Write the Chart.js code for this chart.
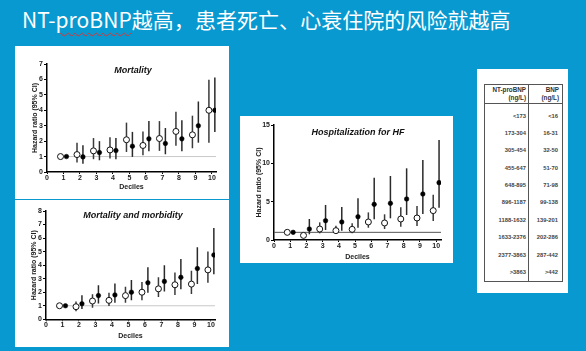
<!DOCTYPE html>
<html lang="zh">
<head>
<meta charset="UTF-8">
<script src="https://cdn.jsdelivr.net/npm/chart.js"></script>
<style>
  body { margin: 0; width: 586px; height: 351px; background: #0799cf; position: relative; overflow: hidden; }
  .title {
    position: absolute; left: 22px; top: 9px; color: #fff; white-space: nowrap; letter-spacing: 0.05px;
    font: 21px/21px "Noto Sans CJK SC", "Noto Sans", sans-serif;
  }
  .title .spell { text-decoration: underline wavy #e03030; text-decoration-thickness: 1px; text-underline-offset: 4px; }
  .panel { position: absolute; background: #fff; }
  .panel canvas { position: absolute; left: 0; top: 0; }
  .ptitle {
    position: absolute; transform: translate(-50%, -50%); white-space: nowrap;
    font: italic bold 9px "Liberation Sans", Arial, sans-serif; color: #111;
  }
  #ranges {
    position: absolute; left: 7px; top: 15px; width: 79px;
    border-collapse: collapse; border: 1px solid #555;
    font: bold 5.8px "Liberation Sans", Arial, sans-serif; color: #444;
  }
  #ranges th { height: 18px; line-height: 8px; text-align: right; padding: 0 3px 0 0; border-bottom: 1px solid #555; color: #333; font-size: 6.3px; }
  #ranges td { height: 17.4px; text-align: right; padding: 0 4px 0 0; line-height: 8px; }
  #ranges th:first-child, #ranges td:first-child { border-right: 1px solid #555; width: 41px; padding-right: 2px; }
  #ranges tr.first td { height: 20.7px; padding-top: 3.3px; box-sizing: border-box; }
</style>
</head>
<body>
  <div class="title">NT-<span class="spell">proBNP</span>越高，患者死亡、心衰住院的风险就越高</div>

  <div class="panel" style="left:15px; top:46px; width:214px; height:153px;">
    <canvas id="mort" width="214" height="153"></canvas>
    <div class="ptitle" style="left:118px; top:24px;">Mortality</div>
  </div>
  <div class="panel" style="left:15px; top:200px; width:214px; height:147px;">
    <canvas id="morb" width="214" height="147"></canvas>
    <div class="ptitle" style="left:118px; top:15px;">Mortality and morbidity</div>
  </div>
  <div class="panel" style="left:240px; top:116px; width:213px; height:147px;">
    <canvas id="hosp" width="213" height="147"></canvas>
    <div class="ptitle" style="left:118px; top:16px;">Hospitalization for HF</div>
  </div>

  <div class="panel" style="left:477px; top:69px; width:91px; height:224px;">
    <table id="ranges">
      <thead><tr><th>NT-proBNP<br>(ng/L)</th><th>BNP<br>(ng/L)</th></tr></thead>
      <tbody></tbody>
    </table>
  </div>

<script>
  // ---- data ----
  const deciles = [1, 2, 3, 4, 5, 6, 7, 8, 9, 10];

  // Mortality (open = NT-proBNP, filled = BNP)
  const mortOpenHr = [1.0, 1.13, 1.37, 1.43, 2.09, 1.72, 2.17, 2.63, 2.41, 4.0];
  const mortOpenLo = [null, 0.62, 0.83, 0.87, 1.3, 1.09, 1.37, 1.7, 1.54, 1.89];
  const mortOpenHi = [null, 1.9, 2.2, 2.26, 3.2, 2.63, 3.3, 3.9, 3.65, 5.98];
  const mortFillHr = [1.0, 0.98, 1.26, 1.39, 1.67, 2.15, 1.85, 2.15, 3.0, 4.0];
  const mortFillLo = [null, 0.54, 0.76, 0.83, 0.98, 1.35, 1.15, 1.35, 1.9, 2.6];
  const mortFillHi = [null, 1.74, 2.0, 2.2, 2.6, 3.3, 2.85, 3.35, 4.57, 6.13];

  // Mortality and morbidity
  const morbOpenHr = [1.0, 0.93, 1.35, 1.4, 1.75, 2.0, 2.25, 2.55, 2.6, 3.65];
  const morbOpenLo = [null, 0.6, 0.85, 0.98, 1.22, 1.4, 1.65, 1.8, 1.87, 2.7];
  const morbOpenHi = [null, 1.32, 1.85, 1.97, 2.4, 2.75, 3.1, 3.45, 3.58, 5.0];
  const morbFillHr = [1.0, 1.15, 1.75, 1.8, 2.0, 2.7, 2.8, 3.1, 3.75, 4.75];
  const morbFillLo = [null, 0.77, 1.17, 1.22, 1.4, 1.97, 2.05, 2.22, 2.6, 3.33];
  const morbFillHi = [null, 1.77, 2.52, 2.65, 2.9, 3.85, 4.0, 4.45, 5.32, 6.75];

  // Hospitalization for HF
  const hospOpenHr = [1.0, 0.6, 1.43, 1.22, 1.39, 2.35, 2.22, 2.74, 2.87, 3.83];
  const hospOpenLo = [null, null, 0.87, 0.87, 0.87, 1.6, 1.43, 1.74, 1.83, 2.48];
  const hospOpenHi = [null, null, 2.3, 1.87, 2.17, 3.6, 3.35, 4.26, 4.43, 5.91];
  const hospFillHr = [1.0, 1.43, 2.52, 2.35, 3.04, 4.65, 4.78, 5.35, 6.0, 7.48];
  const hospFillLo = [null, 0.74, 1.3, 1.22, 1.61, 2.7, 2.83, 3.26, 3.39, 4.22];
  const hospFillHi = [null, 2.74, 4.57, 4.3, 5.43, 8.13, 8.35, 9.35, 10.43, 13.04];

  const refValue = 1;

  // table
  const ntRanges = ['<173', '173-304', '305-454', '455-647', '648-895', '896-1187', '1188-1632', '1633-2376', '2377-3863', '>3863'];
  const bnpRanges = ['<16', '16-31', '32-50', '51-70', '71-98', '99-138', '139-201', '202-286', '287-442', '>442'];

  const esc = t => t.replace('<', '&lt;').replace('>', '&gt;');
  const tbody = document.querySelector('#ranges tbody');
  ntRanges.forEach((r, i) => {
    const tr = document.createElement('tr');
    if (i === 0) tr.className = 'first';
    tr.innerHTML = '<td>' + esc(r) + '</td><td>' + esc(bnpRanges[i]) + '</td>';
    tbody.appendChild(tr);
  });

  // ---- charts ----
  const OFF = 0.18; // side-by-side offset of the two markers
  const FONT = { family: '"Liberation Sans", Arial, sans-serif', size: 7, weight: 'bold' };
  const INK = '#222';

  function points(hr, off) {
    return deciles.map((d, i) => ({ x: d + off, y: hr[i] }));
  }
  function whiskers(lo, hi, off) {
    return deciles.map((d, i) => lo[i] == null ? null : { x: d + off, y: [lo[i], hi[i]] }).filter(Boolean);
  }

  function makeChart(id, s) {
    new Chart(document.getElementById(id), {
      type: 'scatter',
      data: {
        datasets: [
          { type: 'line', data: [{ x: s.refFrom, y: refValue }, { x: s.xMax, y: refValue }],
            borderColor: s.refColor, borderWidth: 1, pointRadius: 0, order: 5 },
          { type: 'bar', data: whiskers(s.openLo, s.openHi, -OFF), backgroundColor: '#3a3a3a',
            maxBarThickness: 1.5, grouped: false, order: 3 },
          { type: 'bar', data: whiskers(s.fillLo, s.fillHi, OFF), backgroundColor: '#2a2a2a',
            maxBarThickness: 1.5, grouped: false, order: 3 },
          { type: 'scatter', data: points(s.openHr, -OFF), pointRadius: 3, pointBackgroundColor: '#fff',
            pointBorderColor: '#111', pointBorderWidth: 1, order: 1 },
          { type: 'scatter', data: points(s.fillHr, OFF), pointRadius: 2.3, pointBackgroundColor: '#000',
            pointBorderColor: '#000', pointBorderWidth: 0.5, order: 1 }
        ]
      },
      options: {
        responsive: false,
        animation: false,
        events: [],
        layout: { padding: { left: 0, top: s.top, right: s.right, bottom: 0 } },
        plugins: { legend: { display: false }, tooltip: { enabled: false } },
        scales: {
          x: {
            type: 'linear', min: 0, max: s.xMax, offset: false,
            afterBuildTicks: sc => { sc.ticks = sc.ticks.filter(t => Number.isInteger(t.value)); },
            afterFit: sc => { sc.height = s.xH; },
            ticks: { stepSize: 1, includeBounds: false, font: FONT, color: INK, padding: 0, maxRotation: 0, autoSkip: false },
            grid: { drawOnChartArea: false, drawTicks: true, tickLength: 2, color: '#000', offset: false },
            border: { display: true, color: '#000', width: 1.5 },
            title: { display: true, text: 'Deciles', font: FONT, color: INK, padding: { top: 0, bottom: s.xTitlePad } }
          },
          y: {
            min: 0, max: s.yMax,
            afterFit: sc => { sc.width = s.yW; },
            ticks: { stepSize: s.yStep, font: FONT, color: INK, padding: 1 },
            grid: { drawOnChartArea: false, drawTicks: true, tickLength: 3, color: '#000' },
            border: { display: true, color: '#000', width: 1.5 },
            title: { display: true, text: 'Hazard ratio (95% CI)', font: FONT, color: INK, padding: { top: s.yTitlePad, bottom: 0 } }
          }
        }
      }
    });
  }

  makeChart('mort', {
    openHr: mortOpenHr, openLo: mortOpenLo, openHi: mortOpenHi,
    fillHr: mortFillHr, fillLo: mortFillLo, fillHi: mortFillHi,
    yMax: 7, yStep: 1, xMax: 10.25, refFrom: 0.6, refColor: '#c8c8c8',
    top: 18, right: 13, yW: 32, xH: 27, yTitlePad: 15.8, xTitlePad: 7.8
  });
  makeChart('morb', {
    openHr: morbOpenHr, openLo: morbOpenLo, openHi: morbOpenHi,
    fillHr: morbFillHr, fillLo: morbFillLo, fillHi: morbFillHi,
    yMax: 8, yStep: 1, xMax: 10.25, refFrom: 0.6, refColor: '#c8c8c8',
    top: 11, right: 14, yW: 31, xH: 27.7, yTitlePad: 14.8, xTitlePad: 6.8
  });
  makeChart('hosp', {
    openHr: hospOpenHr, openLo: hospOpenLo, openHi: hospOpenHi,
    fillHr: hospFillHr, fillLo: hospFillLo, fillHi: hospFillHi,
    yMax: 15, yStep: 5, xMax: 10.3, refFrom: 0, refColor: '#555',
    top: 9, right: 12, yW: 34, xH: 23, yTitlePad: 14.8, xTitlePad: 1.8
  });
</script>
</body>
</html>
